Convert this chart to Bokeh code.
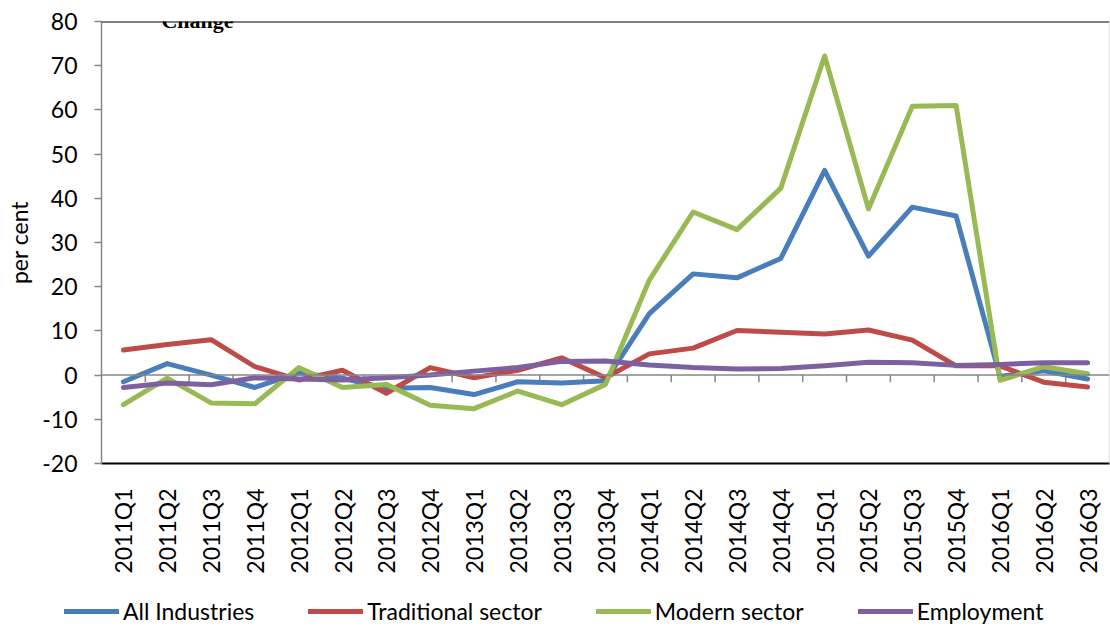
import math
from bokeh.plotting import figure
from bokeh.layouts import column
from bokeh.models import (FactorRange, Range1d, Span, Label, Legend, LegendItem,
                          FixedTicker, ColumnDataSource)
from bokeh.embed import file_html
from bokeh.resources import INLINE

quarters = ["2011Q1", "2011Q2", "2011Q3", "2011Q4",
            "2012Q1", "2012Q2", "2012Q3", "2012Q4",
            "2013Q1", "2013Q2", "2013Q3", "2013Q4",
            "2014Q1", "2014Q2", "2014Q3", "2014Q4",
            "2015Q1", "2015Q2", "2015Q3", "2015Q4",
            "2016Q1", "2016Q2", "2016Q3"]

all_industries = [-1.5, 2.6, 0.0, -2.8, 0.5, -0.7, -3.0, -2.8, -4.4, -1.5, -1.8, -1.3,
                  13.9, 22.9, 22.0, 26.4, 46.3, 26.9, 38.0, 36.0, -0.3, 1.0, -0.9]
traditional = [5.7, 6.9, 8.0, 1.9, -1.1, 1.1, -4.1, 1.7, -0.6, 1.1, 3.9, -0.6,
               4.8, 6.1, 10.1, 9.7, 9.3, 10.2, 7.9, 2.1, 2.1, -1.6, -2.7]
modern = [-6.7, -0.7, -6.3, -6.5, 1.7, -2.8, -2.1, -6.8, -7.6, -3.6, -6.7, -2.1,
          21.5, 36.9, 32.9, 42.3, 72.2, 37.6, 60.8, 61.0, -1.2, 1.9, 0.3]
employment = [-2.8, -1.8, -2.2, -0.6, -0.9, -1.1, -0.6, 0.0, 0.9, 1.7, 3.1, 3.2,
              2.3, 1.7, 1.4, 1.5, 2.1, 2.9, 2.8, 2.2, 2.4, 2.8, 2.8]

series_names = ["All Industries", "Traditional sector", "Modern sector", "Employment"]
series_values = [all_industries, traditional, modern, employment]
series_colors = ["#4A7EBB", "#BE4B48", "#98B954", "#7D60A0"]

y_ticks = list(range(-20, 81, 10))
y_tick_labels = {t: str(t) for t in y_ticks}  # ASCII hyphen for negatives

FONT = "Lato"
FS = "23px"

W = 1110
MAIN_H = 590
LEG_H = 36
FRAME_TOP = 21
FRAME_BOTTOM = 463
FRAME_LEFT = 101

p = figure(x_range=FactorRange(*quarters, range_padding=0),
           y_range=Range1d(-20, 80),
           width=W, height=MAIN_H,
           output_backend="svg", toolbar_location=None,
           min_border_left=FRAME_LEFT, min_border_right=1,
           min_border_top=FRAME_TOP, min_border_bottom=MAIN_H - FRAME_BOTTOM)
p.frame_align = False

p.outline_line_color = None
p.xgrid.visible = False
p.ygrid.visible = False
p.background_fill_color = "white"
p.border_fill_color = "white"

# y axis
p.yaxis.ticker = FixedTicker(ticks=y_ticks)
p.yaxis.major_label_overrides = y_tick_labels
p.yaxis.axis_line_color = "#868686"
p.yaxis.axis_line_width = 1.5
p.yaxis.major_tick_line_color = "#868686"
p.yaxis.major_tick_line_width = 1.5
p.yaxis.major_tick_in = 0
p.yaxis.major_tick_out = 7
p.yaxis.minor_tick_line_color = None
p.yaxis.major_label_text_font = FONT
p.yaxis.major_label_text_font_size = FS
p.yaxis.major_label_text_color = "black"
p.yaxis.major_label_standoff = 17
p.yaxis.axis_label = "per cent"
p.yaxis.axis_label_text_font = FONT
p.yaxis.axis_label_text_font_size = FS
p.yaxis.axis_label_text_font_style = "normal"
p.yaxis.axis_label_text_color = "black"
p.yaxis.axis_label_standoff = 6

# x axis
p.xaxis.axis_line_color = "black"
p.xaxis.axis_line_width = 2
p.xaxis.major_tick_line_color = None
p.xaxis.minor_tick_line_color = None
p.xaxis.major_label_orientation = math.pi / 2
p.xaxis.major_label_text_font = FONT
p.xaxis.major_label_text_font_size = FS
p.xaxis.major_label_text_color = "black"
p.xaxis.major_label_standoff = 19

# frame borders
p.add_layout(Span(location=80, dimension="width", line_color="black", line_width=2))
p.add_layout(Span(location=len(quarters), dimension="height", line_color="#D0D0D0", line_width=1.5))

# zero line with category-boundary ticks
p.add_layout(Span(location=0, dimension="width", line_color="#868686", line_width=1.5))
bounds = list(range(1, len(quarters)))
p.segment(x0=bounds, y0=[0] * len(bounds), x1=bounds, y1=[-1.6] * len(bounds),
          line_color="#868686", line_width=1.5)

for vals, col in zip(series_values, series_colors):
    src = ColumnDataSource(dict(x=quarters, y=vals))
    p.line("x", "y", source=src, line_color=col, line_width=5,
           line_join="round", line_cap="round")

frame_h = FRAME_BOTTOM - FRAME_TOP
title = Label(x=197 - FRAME_LEFT, y=frame_h + 1, x_units="screen", y_units="screen",
              text="Change",
              text_font="Liberation Serif", text_font_style="bold",
              text_font_size="22px", text_color="black",
              text_baseline="alphabetic", text_align="center")
p.add_layout(title)

# legend strip below the chart (its series lie outside its visible y range)
lg = figure(width=W, height=LEG_H, x_range=FactorRange(*quarters, range_padding=0),
            y_range=Range1d(1000, 1001),
            x_axis_type=None, y_axis_type=None,
            output_backend="svg", toolbar_location=None,
            min_border_left=0, min_border_right=0, min_border_top=0, min_border_bottom=0)
lg.frame_align = False
lg.outline_line_color = None
lg.xgrid.visible = False
lg.ygrid.visible = False
items = []
for name, vals, col in zip(series_names, series_values, series_colors):
    src = ColumnDataSource(dict(x=quarters, y=vals))
    r = lg.line("x", "y", source=src, line_color=col, line_width=5, line_cap="round")
    items.append(LegendItem(label=name, renderers=[r]))
legend = Legend(items=items, orientation="horizontal", location=(64, 1),
                glyph_width=55, glyph_height=20, label_standoff=4, spacing=54,
                padding=0, margin=0, border_line_color=None,
                background_fill_alpha=0,
                label_text_font=FONT, label_text_font_size=FS,
                label_text_color="black")
lg.add_layout(legend)

layout = column(p, lg, spacing=0)
open("out.html", "w").write(file_html(layout, INLINE))
